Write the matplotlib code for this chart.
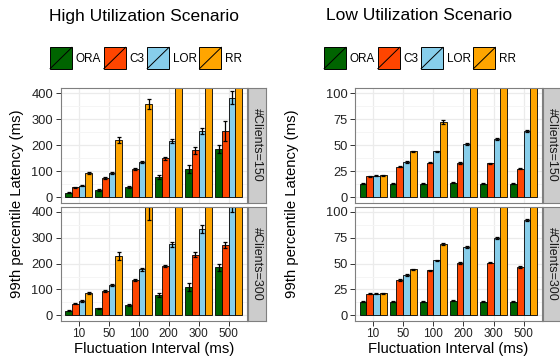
import numpy as np
import matplotlib
matplotlib.use('Agg')
import matplotlib.pyplot as plt
from matplotlib.patches import Rectangle, Patch
from matplotlib.lines import Line2D
from matplotlib.legend_handler import HandlerBase

plt.rcParams['font.family'] = ['Liberation Sans', 'DejaVu Sans']

# --- data (99th percentile latency, ms) ---
intervals = ['10', '50', '100', '200', '300', '500']
policies = ['ORA', 'C3', 'LOR', 'RR']
colors = ['#006400', '#FF4500', '#87CEEB', '#FFA500']
facets = ['#Clients=150', '#Clients=300']

# High utilization, 150 clients
high150_ora = [18, 27, 40, 78, 110, 185]
high150_c3 = [38, 75, 110, 150, 180, 255]
high150_lor = [45, 95, 136, 217, 255, 383]
high150_rr = [93, 220, 358, 600, 800, 1000]
high150_ora_err = [3, 3, 4, 8, 15, 15]
high150_c3_err = [3, 4, 4, 5, 12, 38]
high150_lor_err = [3, 4, 4, 8, 12, 25]
high150_rr_err = [4, 12, 20, 30, 30, 30]

# High utilization, 300 clients
high300_ora = [18, 27, 40, 78, 110, 185]
high300_c3 = [45, 95, 137, 192, 235, 272]
high300_lor = [55, 117, 178, 275, 335, 420]
high300_rr = [87, 228, 425, 600, 800, 1000]
high300_ora_err = [3, 3, 3, 8, 15, 15]
high300_c3_err = [3, 4, 3, 4, 8, 10]
high300_lor_err = [3, 4, 5, 10, 15, 20]
high300_rr_err = [4, 15, 55, 30, 30, 30]

# Low utilization, 150 clients
low150_ora = [13, 13, 13, 14, 13, 13]
low150_c3 = [20, 29.5, 33, 33, 32.5, 27.5]
low150_lor = [20.5, 34, 44, 51, 56, 64]
low150_rr = [21, 44, 72.5, 120, 140, 170]
low150_ora_err = [0.5, 0.5, 0.5, 0.5, 0.5, 0.5]
low150_c3_err = [0.5, 0.7, 0.5, 0.6, 0.6, 0.5]
low150_lor_err = [0.5, 0.6, 0.8, 0.8, 0.8, 1.0]
low150_rr_err = [0.5, 0.7, 2.0, 2.0, 2.0, 2.0]

# Low utilization, 300 clients
low300_ora = [13, 13, 13, 14, 13, 13]
low300_c3 = [21, 34, 43.5, 50.5, 51, 46.5]
low300_lor = [21, 39, 53, 66, 75, 92]
low300_rr = [21.5, 44.5, 69, 120, 140, 170]
low300_ora_err = [0.5, 0.5, 0.5, 0.5, 0.5, 0.5]
low300_c3_err = [0.5, 0.7, 0.7, 0.7, 0.6, 0.7]
low300_lor_err = [0.5, 0.6, 0.8, 0.8, 1.0, 1.2]
low300_rr_err = [0.5, 0.7, 1.2, 2.0, 2.0, 2.0]

W, H = 560, 358
fig = plt.figure(figsize=(W / 100, H / 100), dpi=100)


def px(x0, y0, x1, y1):
    # pixel box (top-left origin) -> figure fraction rect
    return [x0 / W, 1 - y1 / H, (x1 - x0) / W, (y1 - y0) / H]


class SlashKey(HandlerBase):
    def create_artists(self, legend, orig, xd, yd, width, height, fontsize, trans):
        x0, y0 = -xd, -yd
        box = Rectangle((x0, y0), width, height, facecolor=orig.get_facecolor(),
                        edgecolor='black', lw=0.7, transform=trans)
        slash = Line2D([x0, x0 + width], [y0, y0 + height], color='black', lw=0.7,
                       transform=trans)
        return [box, slash]


def draw_panel(ax, series, errors, ymax, yticks, minor, show_x):
    x = np.arange(1, len(intervals) + 1)
    w = 0.225
    offs = [-1.5 * w, -0.5 * w, 0.5 * w, 1.5 * w]
    for j in range(4):
        ax.bar(x + offs[j], series[j], width=w, color=colors[j], edgecolor='black',
               linewidth=0.6, yerr=errors[j],
               error_kw=dict(ecolor='black', elinewidth=0.9, capsize=1.3, capthick=0.9))
    pad = ymax * 0.05
    ax.set_xlim(0.4, 6.6)
    ax.set_ylim(-pad, ymax + pad)
    ax.set_yticks(yticks)
    ax.set_yticks(minor, minor=True)
    ax.set_xticks(x)
    ax.set_axisbelow(True)
    ax.grid(which='major', color='#EBEBEB', lw=0.9)
    ax.grid(which='minor', axis='y', color='#F5F5F5', lw=0.7)
    ax.tick_params(which='minor', length=0)
    ax.tick_params(axis='y', length=3.6, width=0.7, color='#333333', pad=1.8,
                   labelsize=9.3, labelcolor='#222222')
    if show_x:
        ax.set_xticklabels(intervals)
        ax.tick_params(axis='x', length=3.6, width=0.7, color='#333333', pad=2,
                       labelsize=8.5, labelcolor='#222222')
    else:
        ax.tick_params(axis='x', bottom=False, labelbottom=False)
    for s in ax.spines.values():
        s.set_color('#7F7F7F')
        s.set_linewidth(0.8)


def draw_strip(rect, label):
    sax = fig.add_axes(rect)
    sax.set_facecolor('#CCCCCC')
    sax.set_xticks([])
    sax.set_yticks([])
    for s in sax.spines.values():
        s.set_color('#7F7F7F')
        s.set_linewidth(0.8)
    sax.text(0.5, 0.5, label, rotation=-90, ha='center', va='center', fontsize=9,
             color='#1A1A1A', transform=sax.transAxes)


scenarios = [
    dict(title='High Utilization Scenario', x0=60.7, x1=246.7, ymax=400,
         yticks=[0, 100, 200, 300, 400], minor=[50, 150, 250, 350],
         data=[[high150_ora, high150_c3, high150_lor, high150_rr],
               [high300_ora, high300_c3, high300_lor, high300_rr]],
         errs=[[high150_ora_err, high150_c3_err, high150_lor_err, high150_rr_err],
               [high300_ora_err, high300_c3_err, high300_lor_err, high300_rr_err]],
         ylab_x=17, title_x=144, leg_x=146),
    dict(title='Low Utilization Scenario', x0=355, x1=541.7, ymax=100,
         yticks=[0, 25, 50, 75, 100], minor=[12.5, 37.5, 62.5, 87.5],
         data=[[low150_ora, low150_c3, low150_lor, low150_rr],
               [low300_ora, low300_c3, low300_lor, low300_rr]],
         errs=[[low150_ora_err, low150_c3_err, low150_lor_err, low150_rr_err],
               [low300_ora_err, low300_c3_err, low300_lor_err, low300_rr_err]],
         ylab_x=292, title_x=419, leg_x=420),
]

rows = [(88, 202.5), (206.7, 320.5)]

for sc in scenarios:
    for r, (y0, y1) in enumerate(rows):
        ax = fig.add_axes(px(sc['x0'], y0, sc['x1'], y1))
        draw_panel(ax, sc['data'][r], sc['errs'][r], sc['ymax'], sc['yticks'],
                   sc['minor'], show_x=(r == 1))
        draw_strip(px(sc['x1'] + 1.6, y0, sc['x1'] + 19, y1), facets[r])
        if r == 1:
            ax.set_xlabel('Fluctuation Interval (ms)', fontsize=10.7, labelpad=1)
    fig.text(sc['ylab_x'] / W, 1 - 204 / H, '99th percentile Latency (ms)',
             rotation=90, ha='center', va='center', fontsize=10.7)
    fig.text(sc['title_x'] / W, 1 - 16 / H, sc['title'], ha='center', va='center',
             fontsize=12.5)
    handles = [Patch(facecolor=c) for c in colors]
    fig.legend(handles, policies, loc='center', bbox_to_anchor=(sc['leg_x'] / W, 1 - 58 / H),
               ncol=4, frameon=False, fontsize=8.5, handlelength=1.85, handleheight=2.4,
               handletextpad=0.3, columnspacing=0.25, borderpad=0, borderaxespad=0,
               handler_map={Patch: SlashKey()})

fig.savefig('out.png', dpi=100)
